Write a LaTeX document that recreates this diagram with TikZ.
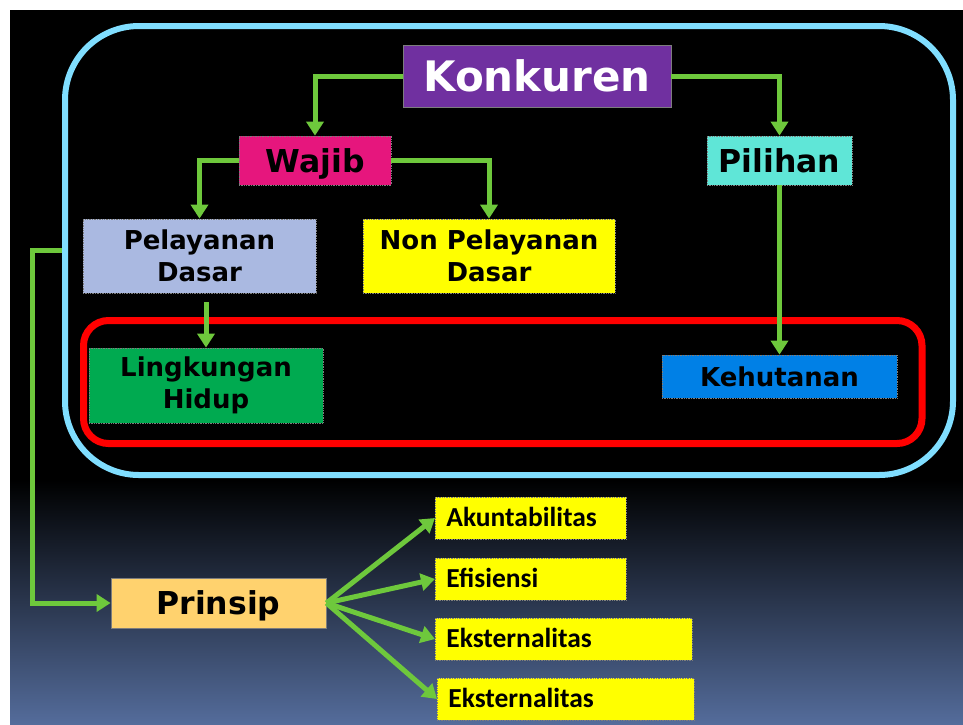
\documentclass[tikz,border=0pt]{standalone}
\usepackage{fontspec}
\setmainfont{DejaVu Sans}
\newfontfamily\carlfont{Carlito}
\usetikzlibrary{arrows.meta}
\definecolor{frameC}{RGB}{128,222,255}
\definecolor{arrowC}{RGB}{110,200,60}
\definecolor{konkC}{RGB}{112,48,160}
\definecolor{wajibC}{RGB}{230,22,125}
\definecolor{pilihC}{RGB}{95,230,215}
\definecolor{pelC}{RGB}{170,185,225}
\definecolor{lingC}{RGB}{0,170,80}
\definecolor{kehC}{RGB}{0,128,230}
\definecolor{prinC}{RGB}{255,210,110}
\definecolor{yelC}{RGB}{255,255,0}
\definecolor{bgBot}{RGB}{84,108,155}
\definecolor{edgeC}{RGB}{125,125,125}
\begin{document}
\begin{tikzpicture}[x=1pt,y=-1pt,
  box/.style={rectangle, inner sep=0pt, draw=edgeC, densely dotted, line width=0.7pt, align=center},
  solidbox/.style={rectangle, inner sep=0pt, draw=edgeC, line width=0.8pt, align=center},
  big/.style={font=\bfseries\fontsize{42}{48}\selectfont, text height=30.6pt, text depth=0pt},
  mid/.style={font=\bfseries\fontsize{31.5}{36}\selectfont, text height=23pt, text depth=0pt},
  smlone/.style={font=\bfseries\fontsize{26}{32}\selectfont, text height=19pt, text depth=0pt},
  sml/.style={font=\bfseries\fontsize{26}{32}\selectfont},
  leaf/.style={rectangle, draw=edgeC, densely dotted, line width=0.7pt, fill=yelC, inner xsep=11pt, inner ysep=0pt,
    align=left, minimum height=42pt, text height=17.7pt, text depth=0pt, font=\carlfont\bfseries\fontsize{27.5}{32}\selectfont},
  conn/.style={draw=arrowC, line width=5pt, -{Triangle[length=14pt,width=17pt]}},
  frame/.style={draw=frameC, line width=6pt, rounded corners=74pt, inner sep=0pt},
  redframe/.style={draw=red, line width=7pt, rounded corners=25pt, inner sep=0pt}
]
\useasboundingbox (0,0) rectangle (963,724);
\fill[white] (0,0) rectangle (963,724);
\fill[black] (10,10) rectangle (963,481);
\shade[top color=black, bottom color=bgBot] (10,480) rectangle (963,724);

% frames
\node[frame, minimum width=888pt, minimum height=449pt] (frm) at (509,250.5) {};
\node[redframe, minimum width=838.5pt, minimum height=123pt] (rfrm) at (502.75,382) {};

% nodes
\node[solidbox, fill=konkC, text=white, big, minimum width=268pt, minimum height=62pt] (konk) at (537,76) {Konkuren};
\node[box, fill=wajibC, mid, minimum width=152pt, minimum height=49pt] (wajib) at (315,160.5) {Wajib};
\node[box, fill=pilihC, mid, minimum width=145pt, minimum height=49pt] (pilih) at (779.5,160.5) {Pilihan};
\node[box, fill=pelC, sml, minimum width=233pt, minimum height=74pt] (pel) at (199.5,256) {Pelayanan\\Dasar};
\node[box, fill=yelC, sml, minimum width=252pt, minimum height=74pt] (nonpel) at (489,256) {Non Pelayanan\\Dasar};
\node[box, fill=lingC, sml, minimum width=234pt, minimum height=75pt] (ling) at (206,385.5) {Lingkungan\\Hidup};
\node[box, fill=kehC, smlone, minimum width=235pt, minimum height=43pt] (keh) at (779.5,376.5) {Kehutanan};
\node[solidbox, fill=prinC, mid, minimum width=215pt, minimum height=50pt] (prin) at (218.5,603) {Prinsip};

\node[leaf, text width=169pt, anchor=west] (ak) at (435,518) {Akuntabilitas};
\node[leaf, text width=169pt, anchor=west] (ef) at (435,579) {Efisiensi};
\node[leaf, text width=235pt, anchor=west] (ek1) at (435,639) {Eksternalitas};
\node[leaf, text width=235pt, anchor=west] (ek2) at (437,699) {Eksternalitas};

% connectors
\draw[conn] (konk.west) -| (wajib.north);
\draw[conn] (konk.east) -| (pilih.north);
\draw[conn] (wajib.west) -| (pel.north);
\draw[conn] (wajib.east) -| (nonpel.north);
\draw[conn] ([yshift=-9pt]ling.north |- pel.south) -- (ling.north);
\draw[conn] (pilih.south) -- (pilih.south |- keh.north);
\draw[conn] (frm.west) -- ++(-30,0) |- (prin.west);
\draw[conn] (prin.east) -- (ak.west);
\draw[conn] (prin.east) -- (ef.west);
\draw[conn] (prin.east) -- (ek1.west);
\draw[conn] (prin.east) -- (ek2.west);
\end{tikzpicture}
\end{document}
